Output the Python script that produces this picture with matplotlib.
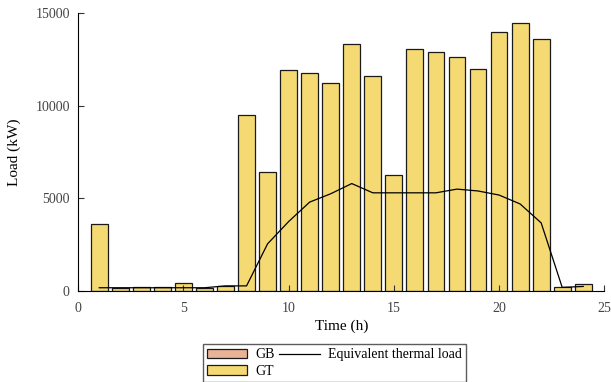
import numpy as np
import matplotlib
matplotlib.use('Agg')
import matplotlib.pyplot as plt

plt.rcParams['font.family'] = ['Liberation Serif', 'DejaVu Serif']
plt.rcParams['font.size'] = 11

hours = np.arange(1, 25)
gb = [0] * 24
gt = [3600, 150, 200, 200, 430, 150, 300, 9500, 6450, 11900, 11750, 11200,
      13350, 11600, 6250, 13050, 12900, 12600, 12000, 13950, 14480, 13600, 200, 360]
thermal = [180, 180, 180, 180, 180, 180, 280, 280, 2550, 3750, 4800, 5250,
           5800, 5300, 5300, 5300, 5300, 5500, 5400, 5180, 4700, 3680, 200, 250]

fig = plt.figure(figsize=(6.11, 3.82), dpi=100)
ax = fig.add_axes([0.128, 0.238, 0.861, 0.728])

b1 = ax.bar(hours, gb, width=0.8, color='#E8B296', edgecolor='#1a1a1a', linewidth=0.9, label='GB')
b2 = ax.bar(hours, gt, width=0.8, bottom=gb, color='#F5D973', edgecolor='#1a1a1a', linewidth=0.9, label='GT')
l1, = ax.plot(hours, thermal, color='black', linewidth=0.9, label='Equivalent thermal load')

ax.set_xlim(0, 25)
ax.set_ylim(0, 15000)
ax.set_xticks([0, 5, 10, 15, 20, 25])
ax.set_yticks([0, 5000, 10000, 15000])
ax.tick_params(direction='in', length=4, colors='#333333', labelcolor='#444444', labelsize=10)
ax.tick_params(axis='x', pad=8)
ax.tick_params(axis='y', pad=6)
ax.spines['top'].set_visible(False)
ax.spines['right'].set_visible(False)
ax.set_xlabel('Time (h)', labelpad=3)
ax.set_ylabel('Load (kW)', labelpad=10)

fig.legend([b1, b2, l1], ['GB', 'GT', 'Equivalent thermal load'], ncol=2,
           loc='lower left', bbox_to_anchor=(203 / 611, 0.0), frameon=True,
           fancybox=False, edgecolor='#333333', fontsize=10, borderpad=0.3,
           labelspacing=0.25, handlelength=2.9, handleheight=0.7,
           columnspacing=0.3, handletextpad=0.6, borderaxespad=0.0)

fig.savefig('out.png', dpi=100)
